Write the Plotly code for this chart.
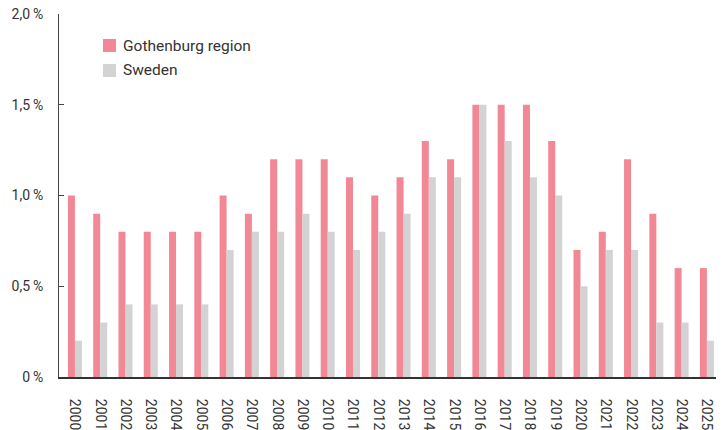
import plotly.graph_objects as go

years = [str(y) for y in range(2000, 2026)]
gothenburg = [1.0, 0.9, 0.8, 0.8, 0.8, 0.8, 1.0, 0.9, 1.2, 1.2, 1.2, 1.1, 1.0,
              1.1, 1.3, 1.2, 1.5, 1.5, 1.5, 1.3, 0.7, 0.8, 1.2, 0.9, 0.6, 0.6]
sweden = [0.2, 0.3, 0.4, 0.4, 0.4, 0.4, 0.7, 0.8, 0.8, 0.9, 0.8, 0.7, 0.8,
          0.9, 1.1, 1.1, 1.5, 1.3, 1.1, 1.0, 0.5, 0.7, 0.7, 0.3, 0.3, 0.2]
y_tickvals = [0, 0.5, 1.0, 1.5, 2.0]
y_ticktext = ["0\u2009%", "0,5\u2009%", "1,0\u2009%", "1,5\u2009%", "2,0\u2009%"]
series_names = ["Gothenburg region", "Sweden"]
colors = ["#F28895", "#D3D3D3"]

W, H = 723, 430
ml, mr, mt, mb = 59, 7, 14, 53
FONT = "Roboto"
TXT = "#333333"

fig = go.Figure()
fig.add_bar(x=years, y=gothenburg, name=series_names[0], marker_color=colors[0],
            marker_line_width=0, showlegend=False, hoverinfo="skip")
fig.add_bar(x=years, y=sweden, name=series_names[1], marker_color=colors[1],
            marker_line_width=0, showlegend=False, hoverinfo="skip")

# manual legend (paper coords from pixel positions)
pw, ph = W - ml - mr, H - mt - mb
def px(x):
    return (x - ml) / pw
def py(y):
    return 1 - (y - mt) / ph

legend_rows = [(39, 52), (64, 77)]
for (y0, y1), name, c in zip(legend_rows, series_names, colors):
    fig.add_shape(type="rect", xref="paper", yref="paper",
                  x0=px(103), x1=px(116), y0=py(y1), y1=py(y0),
                  fillcolor=c, line_width=0)
    fig.add_annotation(xref="paper", yref="paper", x=px(121), y=py((y0 + y1) / 2),
                       text=name, showarrow=False, xanchor="left", yanchor="middle",
                       font=dict(family=FONT, size=15.5, color=TXT))

fig.update_layout(
    width=W, height=H,
    margin=dict(l=ml, r=mr, t=mt, b=mb, pad=0, autoexpand=False),
    paper_bgcolor="white", plot_bgcolor="white",
    barmode="group", bargap=0.446, bargroupgap=0,
    font=dict(family=FONT, size=14, color=TXT),
)
fig.update_xaxes(
    type="category", range=[-0.63, 25.36], automargin=False,
    showline=True, linecolor="#333333", linewidth=2,
    ticks="", tickangle=90, ticklabelstandoff=17,
    tickfont=dict(family=FONT, size=14, color=TXT),
    showgrid=False, zeroline=False,
)
fig.update_yaxes(
    range=[0, 2.0], tickvals=y_tickvals, ticktext=y_ticktext, automargin=False,
    showline=True, linecolor="#444444", linewidth=1,
    ticks="inside", ticklen=5, tickcolor="#444444",
    ticklabelstandoff=12,
    tickfont=dict(family=FONT, size=14, color=TXT),
    showgrid=False, zeroline=False,
)

fig.write_html("out.html", config={"displayModeBar": False},
               post_script="document.body.style.margin='0';")
